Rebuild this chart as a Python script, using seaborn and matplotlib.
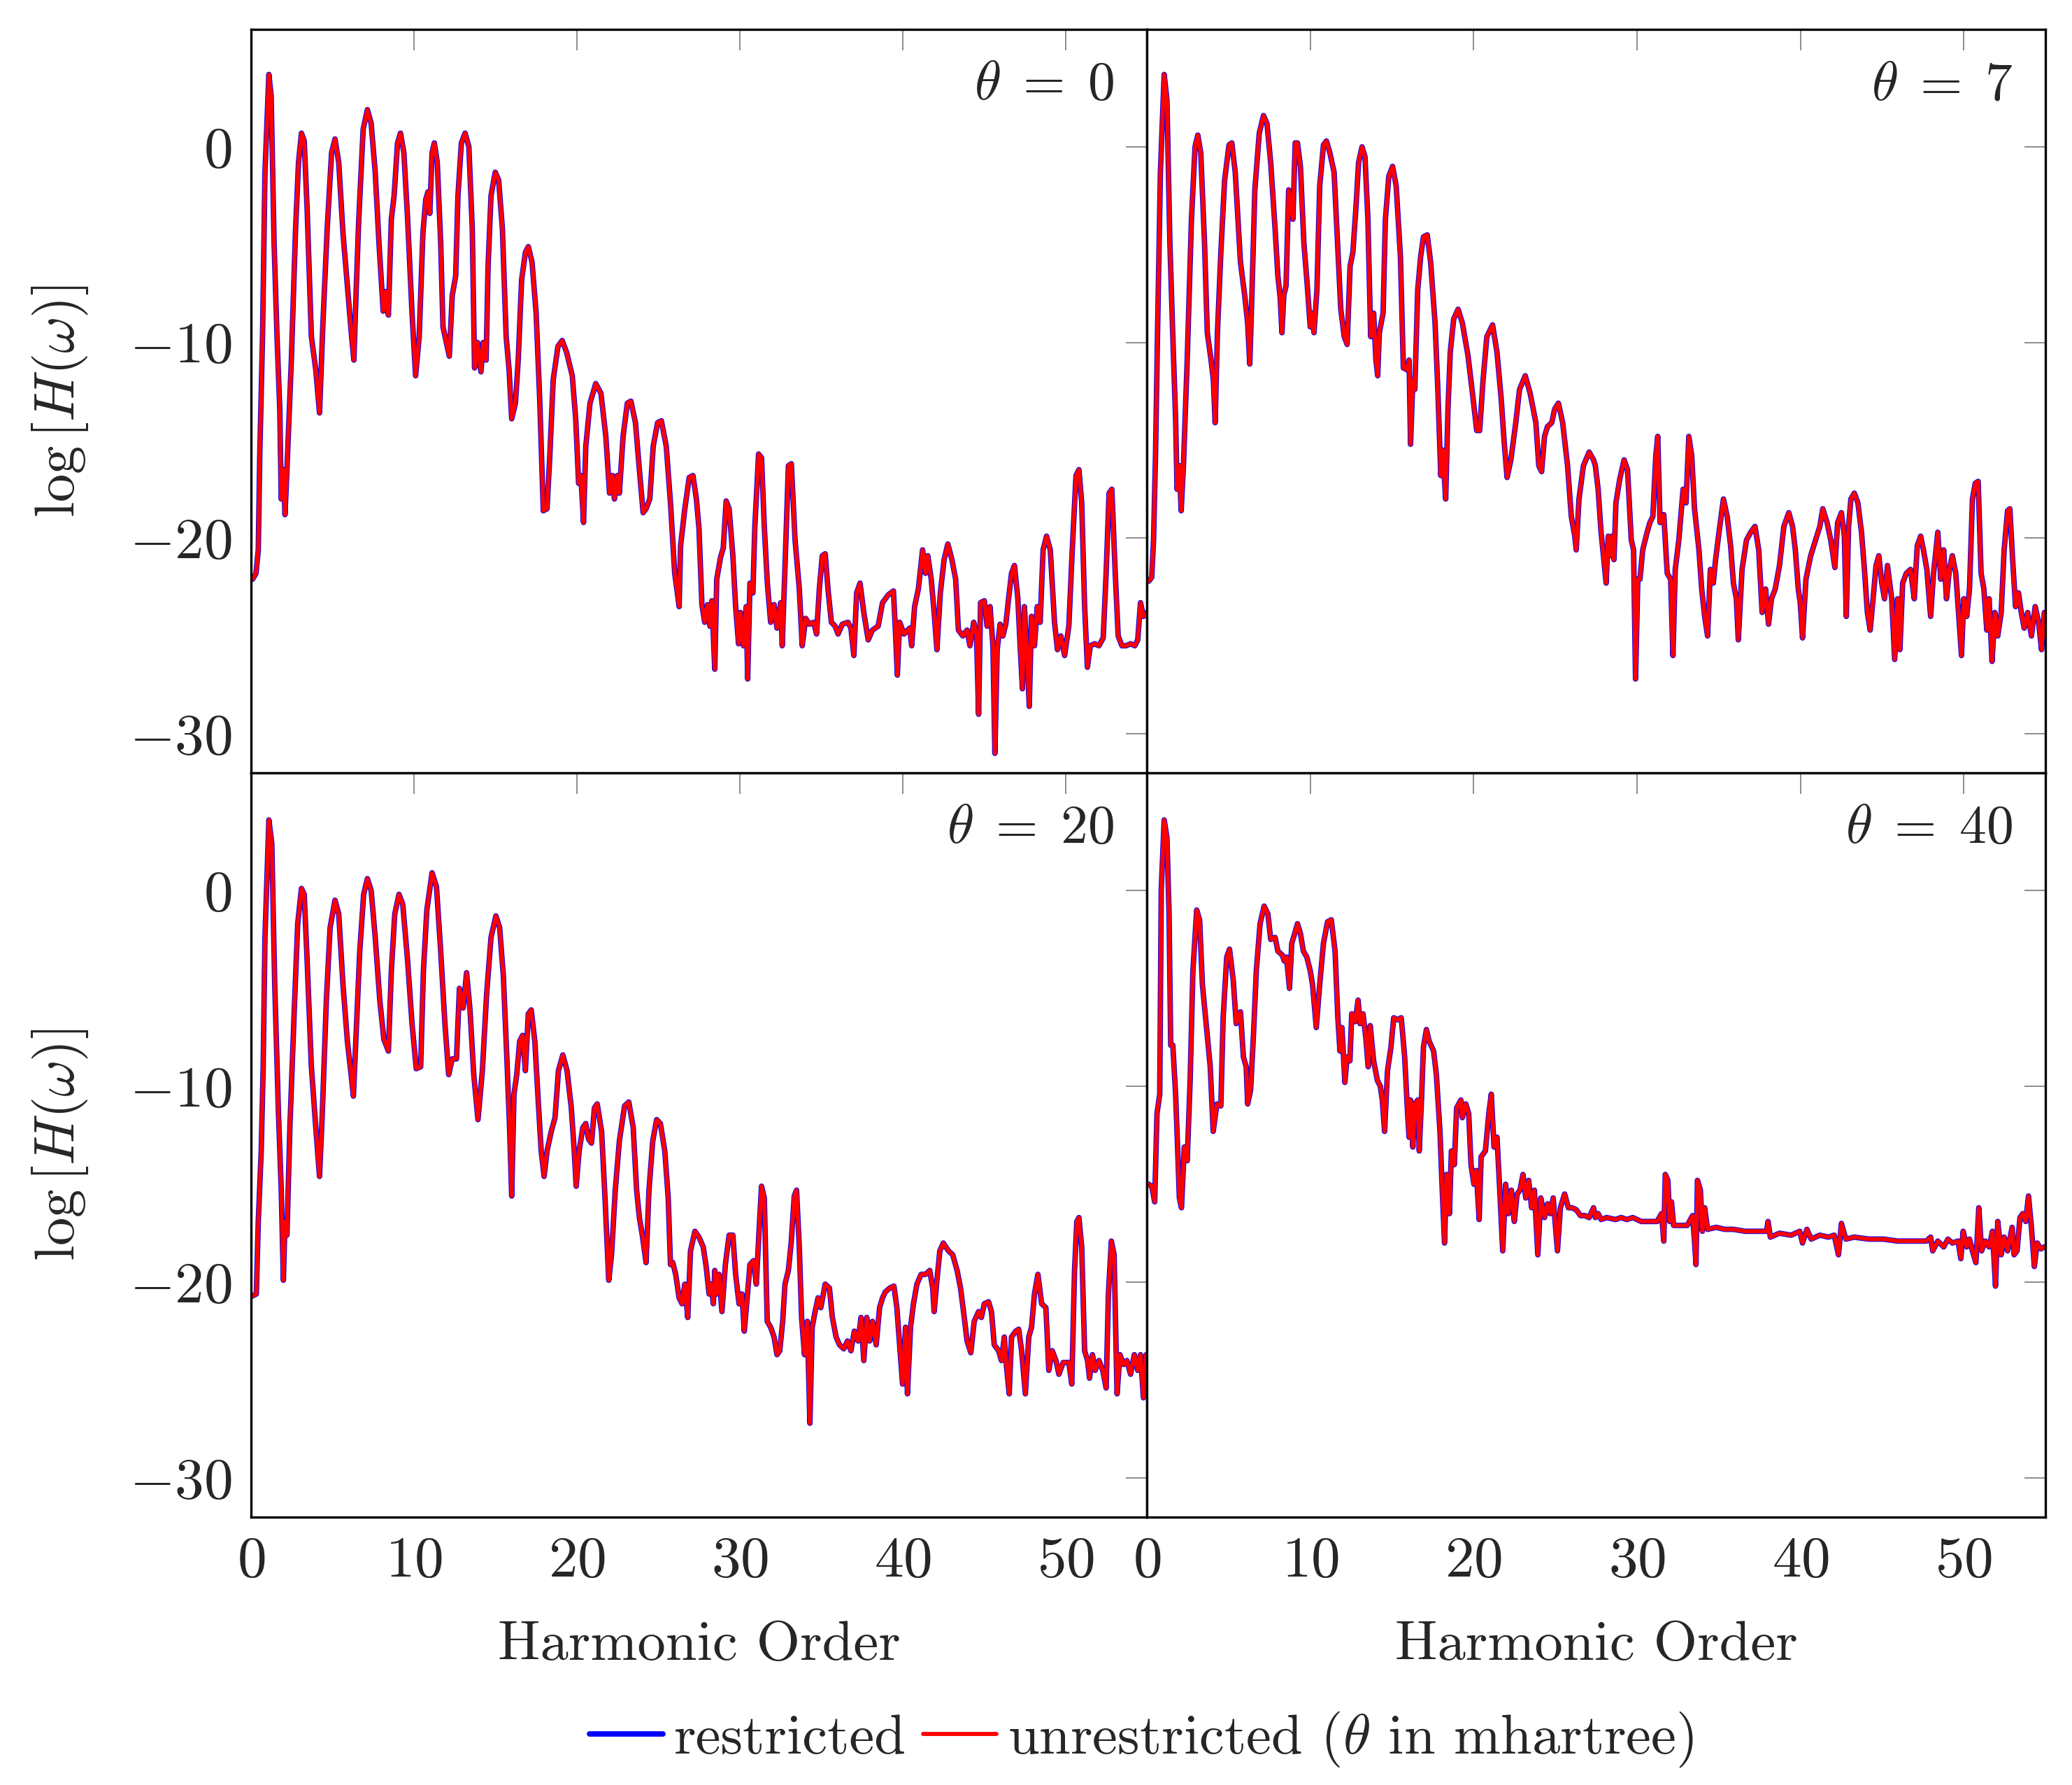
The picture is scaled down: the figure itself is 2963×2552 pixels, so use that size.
import pandas as pd
import seaborn as sns
import matplotlib.pyplot as plt

THETAS = [0, 7, 20, 40]
SERIES = ['restricted', 'unrestricted']
SERIES_COLORS = {'restricted': 'blue', 'unrestricted': 'red'}
XTICKS = [0, 10, 20, 30, 40, 50]
YTICKS = [-30, -20, -10, 0]

# (harmonic order, log H(w)), the two runs overlap to the eye
spec_theta0 = [
    (0.09, -22.1), (0.3, -21.8), (0.44, -20.6), (0.53, -15.8), (0.7, -9.7), (0.85, -1.3), (1.09, 3.7), (1.23, 2.6),
    (1.41, -4.9), (1.59, -9.7), (1.76, -13.4), (1.85, -18.0), (1.98, -16.5), (2.08, -18.8), (2.2, -16.5), (2.47, -10.9),
    (2.73, -4.2), (2.91, -0.8), (3.09, 0.7), (3.26, 0.3), (3.44, -3.2), (3.7, -9.7), (3.97, -11.4), (4.2, -13.6),
    (4.41, -9.0), (4.67, -4.2), (4.94, -0.3), (5.15, 0.4), (5.38, -0.8), (5.64, -4.4), (5.91, -7.1), (6.17, -9.7),
    (6.31, -10.9), (6.44, -7.6), (6.61, -3.7), (6.88, 0.9), (7.14, 1.9), (7.37, 1.2), (7.62, -1.3), (7.85, -4.9),
    (8.11, -8.4), (8.25, -7.4), (8.43, -8.6), (8.61, -3.7), (8.78, -2.5), (8.99, 0.2), (9.17, 0.7), (9.38, -0.3),
    (9.61, -3.7), (9.88, -8.5), (10.1, -11.7), (10.32, -9.7), (10.55, -4.4), (10.72, -2.7), (10.86, -2.3), (10.97, -3.4),
    (11.11, -0.3), (11.25, 0.2), (11.43, -0.8), (11.64, -4.9), (11.78, -9.2), (11.99, -10.0), (12.17, -10.7), (12.35, -7.6),
    (12.56, -6.6), (12.7, -2.5), (12.91, 0.2), (13.14, 0.7), (13.37, 0.0), (13.58, -4.2), (13.72, -11.3), (13.9, -10.0),
    (14.11, -11.5), (14.25, -10.0), (14.43, -10.9), (14.55, -6.1), (14.73, -2.5), (14.99, -1.3), (15.2, -1.7), (15.43, -4.2),
    (15.66, -9.7), (15.84, -11.4), (16.0, -13.9), (16.23, -13.1), (16.4, -10.9), (16.61, -6.8), (16.84, -5.4), (17.02, -5.1),
    (17.25, -5.9), (17.5, -8.5), (17.72, -12.9), (17.94, -18.6), (18.17, -18.5), (18.34, -15.8), (18.55, -11.9), (18.84, -10.2),
    (19.1, -9.9), (19.37, -10.5), (19.72, -11.7), (19.93, -13.9), (20.11, -17.2), (20.25, -16.8), (20.41, -19.2), (20.55, -15.3),
    (20.81, -13.1), (21.16, -12.1), (21.48, -12.6), (21.78, -14.8), (22.01, -17.7), (22.19, -16.8), (22.31, -18.0), (22.49, -16.8),
    (22.61, -17.7), (22.84, -14.8), (23.1, -13.1), (23.32, -13.0), (23.6, -14.1), (23.84, -16.5), (24.07, -18.7), (24.25, -18.5),
    (24.48, -18.0), (24.69, -15.3), (24.96, -14.1), (25.19, -14.0), (25.49, -15.3), (25.75, -18.2), (26.01, -21.8), (26.14, -22.6),
    (26.28, -23.5), (26.37, -20.4), (26.63, -18.5), (26.9, -16.9), (27.13, -16.8), (27.34, -18.0), (27.5, -19.5), (27.68, -23.4),
    (27.85, -24.3), (28.03, -23.4), (28.17, -24.5), (28.29, -23.2), (28.47, -26.7), (28.59, -22.1), (28.82, -21.0), (28.99, -20.5),
    (29.17, -18.1), (29.35, -18.5), (29.58, -20.9), (29.75, -23.5), (29.93, -25.4), (30.05, -23.8), (30.23, -25.5), (30.4, -23.5),
    (30.49, -27.2), (30.63, -22.3), (30.81, -22.8), (30.93, -19.4), (31.16, -15.7), (31.34, -15.9), (31.51, -19.4), (31.69, -22.2),
    (31.9, -24.3), (32.11, -23.4), (32.29, -24.6), (32.52, -23.3), (32.61, -25.5), (32.78, -21.5), (32.99, -16.3), (33.17, -16.2),
    (33.4, -20.1), (33.66, -22.6), (33.84, -25.5), (34.05, -24.1), (34.28, -24.4), (34.54, -24.3), (34.72, -24.9), (34.89, -22.6),
    (35.07, -20.9), (35.25, -20.8), (35.42, -22.6), (35.63, -24.3), (35.86, -24.5), (36.04, -24.9), (36.3, -24.4), (36.65, -24.3),
    (36.83, -24.6), (37.01, -26.0), (37.18, -22.8), (37.39, -22.3), (37.62, -23.8), (37.89, -25.2), (38.15, -24.7), (38.5, -24.5),
    (38.77, -23.3), (39.12, -22.9), (39.44, -22.7), (39.56, -24.7), (39.68, -27.0), (39.82, -24.3), (40.09, -24.9), (40.44, -24.6),
    (40.56, -25.5), (40.74, -23.5), (40.97, -22.6), (41.23, -20.6), (41.41, -21.8), (41.55, -20.9), (41.76, -22.1), (41.94, -23.8),
    (42.11, -25.7), (42.32, -22.8), (42.55, -21.1), (42.78, -20.3), (43.03, -21.1), (43.26, -22.1), (43.43, -24.7), (43.7, -25.0),
    (43.96, -24.7), (44.14, -25.5), (44.37, -24.3), (44.54, -24.9), (44.67, -29.0), (44.79, -23.3), (45.02, -23.2), (45.19, -24.5),
    (45.37, -23.5), (45.55, -25.5), (45.67, -31.0), (45.81, -25.7), (45.99, -24.4), (46.16, -25.0), (46.34, -24.4), (46.51, -23.1),
    (46.69, -21.8), (46.87, -21.4), (47.08, -23.1), (47.22, -25.5), (47.36, -27.7), (47.48, -23.5), (47.66, -26.2), (47.78, -28.6),
    (47.92, -24.0), (48.1, -25.5), (48.27, -23.5), (48.45, -24.3), (48.63, -20.6), (48.84, -19.9), (49.07, -20.6), (49.33, -24.3),
    (49.51, -25.7), (49.72, -25.0), (49.95, -26.0), (50.21, -24.5), (50.42, -20.6), (50.65, -16.8), (50.83, -16.5), (51.0, -18.2),
    (51.18, -23.5), (51.35, -26.6), (51.53, -25.5), (51.79, -25.4), (52.06, -25.5), (52.32, -25.1), (52.5, -21.8), (52.68, -17.7),
    (52.85, -17.5), (53.06, -21.8), (53.24, -25.0), (53.47, -25.5), (53.73, -25.5), (54.0, -25.4), (54.26, -25.5), (54.44, -25.2),
    (54.61, -23.3), (54.79, -24.0), (55.0, -23.8),
]

spec_theta7 = [
    (0.12, -22.2), (0.3, -22.0), (0.41, -20.1), (0.53, -15.8), (0.65, -9.7), (0.83, -1.3), (1.06, 3.7), (1.23, 2.4),
    (1.41, -4.9), (1.59, -9.7), (1.76, -13.9), (1.85, -17.5), (1.99, -16.3), (2.1, -18.6), (2.24, -16.3), (2.47, -10.9),
    (2.73, -3.7), (2.95, 0.0), (3.12, 0.6), (3.3, -0.3), (3.53, -4.9), (3.7, -9.5), (3.93, -10.9), (4.07, -11.9),
    (4.18, -14.1), (4.32, -9.5), (4.53, -5.4), (4.76, -1.7), (5.03, 0.1), (5.2, 0.2), (5.41, -1.3), (5.73, -5.9),
    (5.99, -7.6), (6.17, -9.0), (6.3, -11.1), (6.44, -7.3), (6.61, -2.2), (6.88, 0.7), (7.14, 1.6), (7.35, 1.2),
    (7.58, -0.8), (7.85, -4.2), (8.02, -6.6), (8.16, -7.7), (8.27, -9.5), (8.38, -7.6), (8.52, -7.1), (8.68, -2.2),
    (8.82, -3.0), (8.94, -3.7), (9.08, 0.2), (9.22, 0.2), (9.4, -1.0), (9.61, -4.9), (9.82, -7.1), (10.0, -9.2),
    (10.11, -8.5), (10.23, -9.5), (10.41, -7.3), (10.58, -2.0), (10.81, 0.1), (10.99, 0.3), (11.2, -0.3), (11.46, -1.3),
    (11.64, -4.4), (11.87, -8.3), (12.08, -9.7), (12.26, -10.1), (12.44, -6.1), (12.61, -5.4), (12.79, -3.2), (12.96, -0.8),
    (13.17, 0.0), (13.35, -0.5), (13.53, -3.7), (13.7, -9.7), (13.88, -8.5), (14.02, -10.9), (14.13, -11.7), (14.23, -9.5),
    (14.46, -8.5), (14.6, -3.7), (14.81, -1.5), (15.04, -1.0), (15.26, -2.0), (15.52, -5.6), (15.7, -11.3), (15.93, -11.4),
    (16.05, -10.9), (16.14, -15.2), (16.28, -11.9), (16.4, -12.4), (16.58, -7.3), (16.76, -5.6), (16.93, -4.6), (17.16, -4.5),
    (17.37, -5.9), (17.64, -9.0), (17.81, -12.4), (17.99, -16.8), (18.11, -15.5), (18.29, -18.0), (18.43, -13.4), (18.57, -10.5),
    (18.78, -8.8), (19.05, -8.3), (19.31, -9.0), (19.66, -10.7), (19.93, -12.6), (20.19, -14.5), (20.37, -14.5), (20.58, -11.9),
    (20.81, -9.7), (21.16, -9.1), (21.43, -10.5), (21.69, -12.9), (21.87, -15.1), (22.05, -16.9), (22.28, -16.0), (22.58, -14.1),
    (22.81, -12.4), (23.16, -11.7), (23.46, -12.6), (23.81, -14.1), (23.99, -16.3), (24.16, -16.6), (24.34, -14.8), (24.52, -14.3),
    (24.78, -14.1), (24.96, -13.4), (25.19, -13.1), (25.45, -14.1), (25.75, -16.3), (25.98, -18.9), (26.19, -19.9), (26.28, -20.6),
    (26.45, -18.0), (26.72, -16.3), (27.07, -15.6), (27.34, -16.0), (27.45, -16.3), (27.62, -17.5), (27.8, -19.7), (27.97, -21.1),
    (28.11, -22.3), (28.24, -19.9), (28.36, -20.9), (28.47, -19.9), (28.59, -21.1), (28.71, -18.2), (28.94, -17.0), (29.21, -16.0),
    (29.42, -16.5), (29.65, -20.1), (29.79, -20.6), (29.91, -27.2), (30.05, -22.1), (30.18, -22.1), (30.35, -20.6), (30.62, -19.7),
    (30.79, -19.2), (30.97, -18.9), (31.15, -15.8), (31.27, -14.8), (31.41, -19.2), (31.64, -18.8), (31.85, -21.8), (32.06, -22.1),
    (32.2, -26.0), (32.34, -21.6), (32.56, -20.1), (32.82, -17.5), (33.0, -18.2), (33.17, -14.8), (33.35, -15.8), (33.52, -18.5),
    (33.79, -20.6), (33.96, -22.6), (34.14, -24.0), (34.32, -25.0), (34.49, -21.6), (34.67, -22.3), (34.81, -21.1), (35.02, -19.7),
    (35.29, -18.0), (35.52, -18.9), (35.73, -20.4), (35.9, -22.3), (36.08, -23.1), (36.2, -25.2), (36.43, -21.6), (36.7, -20.1),
    (36.96, -19.7), (37.22, -19.4), (37.45, -20.6), (37.66, -23.8), (37.87, -22.6), (38.05, -24.4), (38.23, -23.1), (38.46, -22.6),
    (38.72, -21.4), (38.99, -19.4), (39.29, -18.7), (39.52, -19.4), (39.69, -20.6), (39.87, -22.6), (39.99, -23.3), (40.13, -25.1),
    (40.34, -22.1), (40.63, -20.9), (40.93, -20.1), (41.19, -19.4), (41.37, -18.5), (41.63, -19.2), (41.86, -20.1), (42.11, -21.5),
    (42.28, -19.2), (42.51, -18.7), (42.69, -19.9), (42.81, -24.0), (42.95, -19.4), (43.09, -18.0), (43.3, -17.7), (43.52, -18.2),
    (43.74, -19.7), (43.92, -21.6), (44.1, -23.8), (44.27, -24.7), (44.45, -23.1), (44.63, -21.4), (44.8, -20.9), (44.98, -22.3),
    (45.15, -23.1), (45.33, -21.4), (45.59, -23.1), (45.77, -26.2), (45.95, -23.1), (46.09, -25.7), (46.26, -22.3), (46.48, -21.8),
    (46.74, -21.6), (46.97, -23.1), (47.15, -20.4), (47.36, -19.9), (47.53, -20.6), (47.74, -21.6), (47.97, -24.0), (48.15, -21.8),
    (48.41, -19.7), (48.59, -22.1), (48.77, -20.6), (48.94, -23.1), (49.12, -21.6), (49.3, -20.9), (49.51, -21.8), (49.68, -23.8),
    (49.86, -26.0), (50.0, -23.1), (50.18, -24.0), (50.35, -22.6), (50.53, -18.0), (50.7, -17.2), (50.88, -17.1), (51.06, -21.8),
    (51.23, -22.6), (51.41, -24.7), (51.55, -23.1), (51.73, -26.3), (51.9, -23.8), (52.08, -25.0), (52.29, -23.8), (52.47, -20.6),
    (52.68, -18.6), (52.82, -18.5), (52.99, -21.1), (53.17, -23.5), (53.35, -22.8), (53.52, -23.8), (53.7, -24.6), (53.91, -23.8),
    (54.14, -25.0), (54.37, -23.5), (54.58, -24.3), (54.76, -25.7), (54.93, -23.8),
]

spec_theta20 = [
    (0.09, -20.7), (0.32, -20.6), (0.44, -16.9), (0.62, -13.3), (0.74, -9.0), (0.85, -2.4), (1.09, 3.6), (1.27, 2.4),
    (1.45, -4.8), (1.68, -11.4), (1.85, -15.3), (1.98, -19.9), (2.08, -16.9), (2.2, -17.6), (2.38, -12.1), (2.65, -6.1),
    (2.86, -1.7), (3.09, 0.1), (3.26, -0.2), (3.44, -3.6), (3.7, -9.0), (3.97, -12.1), (4.2, -14.6), (4.37, -11.4),
    (4.62, -5.6), (4.85, -1.9), (5.15, -0.5), (5.38, -1.2), (5.64, -4.8), (5.91, -7.7), (6.14, -9.4), (6.28, -10.5),
    (6.44, -7.5), (6.67, -3.1), (6.91, -0.2), (7.14, 0.6), (7.37, 0.0), (7.62, -2.4), (7.9, -5.6), (8.15, -7.6),
    (8.43, -8.2), (8.61, -4.1), (8.82, -1.2), (9.08, -0.2), (9.31, -0.7), (9.61, -3.6), (9.88, -6.8), (10.14, -9.1),
    (10.41, -9.0), (10.58, -4.1), (10.79, -1.0), (11.11, 0.9), (11.38, 0.2), (11.64, -3.1), (11.9, -6.8), (12.13, -9.4),
    (12.35, -8.6), (12.61, -8.6), (12.79, -5.0), (13.02, -6.0), (13.23, -4.2), (13.44, -6.1), (13.67, -9.4), (13.93, -11.7),
    (14.2, -9.2), (14.46, -5.3), (14.73, -2.4), (15.03, -1.3), (15.26, -1.9), (15.49, -4.4), (15.7, -8.5), (15.87, -12.1),
    (16.0, -15.6), (16.14, -10.4), (16.31, -9.4), (16.49, -7.7), (16.67, -7.4), (16.84, -9.2), (17.02, -6.3), (17.2, -6.1),
    (17.42, -7.7), (17.64, -10.9), (17.81, -13.3), (17.99, -14.6), (18.17, -13.3), (18.43, -12.3), (18.66, -11.6), (18.87, -9.2),
    (19.14, -8.4), (19.4, -9.2), (19.66, -11.1), (19.84, -13.3), (19.96, -15.1), (20.14, -13.3), (20.37, -12.1), (20.55, -11.9),
    (20.72, -12.7), (20.9, -12.9), (21.08, -11.1), (21.25, -10.9), (21.52, -12.3), (21.73, -15.7), (21.96, -19.9), (22.13, -18.6),
    (22.36, -15.3), (22.61, -12.8), (22.93, -11.0), (23.19, -10.8), (23.46, -12.1), (23.67, -15.3), (23.84, -16.7), (24.02, -17.6),
    (24.25, -19.0), (24.43, -15.3), (24.66, -12.8), (24.9, -11.7), (25.13, -11.9), (25.4, -13.3), (25.61, -15.7), (25.75, -19.1),
    (25.89, -19.0), (26.07, -19.6), (26.28, -20.8), (26.46, -21.1), (26.63, -20.1), (26.81, -21.8), (26.98, -18.4), (27.25, -17.4),
    (27.5, -17.7), (27.76, -18.2), (27.94, -19.2), (28.12, -20.6), (28.24, -20.1), (28.38, -21.1), (28.47, -19.4), (28.59, -20.6),
    (28.73, -19.6), (28.91, -21.5), (29.12, -19.1), (29.35, -17.6), (29.58, -17.6), (29.75, -19.6), (29.96, -21.1), (30.14, -20.6),
    (30.28, -22.5), (30.46, -20.8), (30.63, -19.1), (30.85, -18.9), (31.02, -20.1), (31.2, -17.2), (31.34, -15.1), (31.51, -15.7),
    (31.69, -22.0), (31.9, -22.3), (32.11, -22.8), (32.29, -23.7), (32.46, -23.5), (32.64, -22.0), (32.78, -20.1), (32.99, -19.4),
    (33.17, -17.9), (33.35, -15.6), (33.49, -15.3), (33.66, -18.2), (33.8, -21.8), (33.98, -23.7), (34.15, -22.0), (34.31, -27.2),
    (34.45, -22.3), (34.63, -21.5), (34.81, -20.8), (34.98, -21.3), (35.25, -20.1), (35.51, -20.3), (35.69, -21.8), (35.92, -22.8),
    (36.13, -23.2), (36.39, -23.4), (36.62, -23.0), (36.83, -23.5), (37.04, -22.5), (37.27, -23.0), (37.45, -21.8), (37.62, -24.0),
    (37.8, -21.8), (37.98, -23.0), (38.15, -22.0), (38.38, -23.2), (38.59, -21.3), (38.77, -20.8), (38.94, -20.5), (39.21, -20.3),
    (39.47, -20.2), (39.65, -21.3), (39.82, -23.2), (40.0, -25.2), (40.18, -22.3), (40.3, -25.7), (40.49, -22.3), (40.67, -21.1),
    (40.88, -20.1), (41.14, -19.6), (41.41, -19.6), (41.67, -19.4), (41.85, -20.3), (41.94, -21.5), (42.11, -19.9), (42.29, -18.4),
    (42.5, -18.0), (42.82, -18.4), (43.08, -18.6), (43.35, -19.4), (43.56, -20.3), (43.79, -21.8), (43.96, -23.0), (44.19, -23.6),
    (44.4, -22.0), (44.67, -21.5), (44.84, -21.8), (45.02, -21.1), (45.28, -21.0), (45.46, -21.5), (45.63, -23.2), (45.9, -23.5),
    (46.07, -24.0), (46.25, -22.8), (46.37, -24.2), (46.55, -25.7), (46.69, -22.8), (46.95, -22.5), (47.13, -22.4), (47.31, -23.5),
    (47.54, -25.7), (47.75, -22.8), (47.92, -22.3), (48.1, -20.6), (48.31, -19.6), (48.54, -21.1), (48.8, -21.3), (48.98, -24.5),
    (49.19, -23.5), (49.42, -24.0), (49.6, -24.7), (49.86, -24.1), (50.21, -24.1), (50.39, -25.2), (50.56, -19.4), (50.7, -16.9),
    (50.83, -16.7), (51.0, -18.2), (51.18, -23.5), (51.36, -24.0), (51.48, -24.9), (51.66, -23.7), (51.83, -24.5), (52.06, -24.0),
    (52.29, -24.5), (52.5, -25.4), (52.64, -20.6), (52.82, -17.9), (52.99, -18.6), (53.17, -25.7), (53.35, -23.7), (53.56, -24.2),
    (53.77, -24.0), (54.0, -24.7), (54.23, -23.7), (54.44, -24.5), (54.61, -23.7), (54.79, -25.9), (54.96, -23.7),
]

spec_theta40 = [
    (0.12, -15.0), (0.3, -15.1), (0.48, -15.9), (0.62, -11.4), (0.79, -10.4), (0.88, 0.0), (1.06, 3.6), (1.23, 2.7),
    (1.36, -1.2), (1.46, -7.9), (1.59, -7.9), (1.76, -10.4), (1.89, -13.3), (1.99, -15.7), (2.12, -16.2), (2.29, -13.1),
    (2.47, -13.8), (2.65, -9.7), (2.82, -4.1), (3.05, -1.0), (3.23, -1.5), (3.4, -4.8), (3.65, -7.0), (3.88, -9.0),
    (4.06, -12.3), (4.29, -10.9), (4.53, -11.0), (4.67, -6.5), (4.89, -3.4), (5.06, -3.0), (5.29, -4.6), (5.47, -6.8),
    (5.73, -6.2), (5.91, -8.5), (6.08, -9.0), (6.17, -10.9), (6.35, -10.2), (6.53, -7.3), (6.7, -4.1), (6.93, -1.7),
    (7.18, -0.8), (7.41, -1.2), (7.58, -2.5), (7.85, -2.4), (8.02, -3.1), (8.29, -3.3), (8.41, -3.6), (8.55, -3.4),
    (8.73, -5.0), (8.87, -2.7), (9.05, -2.2), (9.22, -1.7), (9.4, -2.2), (9.58, -3.1), (9.79, -3.4), (10.0, -4.1),
    (10.14, -4.8), (10.37, -7.0), (10.58, -4.8), (10.81, -2.7), (11.06, -1.6), (11.29, -1.5), (11.52, -3.1), (11.69, -6.5),
    (11.82, -8.2), (11.94, -7.0), (12.12, -9.8), (12.26, -8.5), (12.43, -8.7), (12.54, -6.3), (12.75, -6.7), (12.93, -5.6),
    (13.05, -6.8), (13.23, -6.3), (13.4, -7.5), (13.55, -9.0), (13.67, -6.9), (13.88, -8.7), (14.11, -9.7), (14.29, -10.0),
    (14.41, -10.7), (14.55, -12.3), (14.73, -9.2), (14.94, -8.0), (15.11, -6.5), (15.34, -6.6), (15.57, -6.5), (15.78, -8.5),
    (15.96, -11.4), (16.05, -12.6), (16.14, -10.7), (16.28, -13.1), (16.4, -10.9), (16.58, -10.7), (16.67, -13.3), (16.81, -10.7),
    (16.93, -8.0), (17.11, -7.1), (17.28, -7.7), (17.55, -8.2), (17.72, -9.4), (17.94, -12.3), (18.08, -15.3), (18.22, -18.0),
    (18.34, -14.5), (18.52, -16.5), (18.64, -13.3), (18.82, -14.0), (18.96, -11.1), (19.22, -10.7), (19.31, -11.6), (19.52, -10.9),
    (19.7, -11.4), (19.84, -14.0), (20.02, -15.0), (20.16, -14.3), (20.34, -16.8), (20.46, -13.6), (20.72, -13.3), (20.93, -11.4),
    (21.08, -10.4), (21.25, -13.1), (21.43, -12.6), (21.6, -15.3), (21.78, -18.4), (21.96, -15.0), (22.13, -16.5), (22.31, -15.3),
    (22.49, -16.9), (22.66, -15.5), (22.84, -15.3), (23.02, -14.5), (23.19, -15.7), (23.37, -14.8), (23.55, -16.2), (23.72, -15.3),
    (23.93, -18.6), (24.11, -15.7), (24.34, -16.7), (24.52, -16.0), (24.69, -16.5), (24.87, -15.7), (25.13, -18.4), (25.31, -16.2),
    (25.57, -15.5), (25.8, -16.2), (26.01, -16.2), (26.28, -16.3), (26.54, -16.6), (26.81, -16.6), (27.07, -16.7), (27.34, -16.2),
    (27.45, -16.7), (27.62, -16.5), (27.8, -16.8), (28.15, -16.7), (28.68, -16.8), (29.03, -16.7), (29.38, -16.8), (29.74, -16.7),
    (30.26, -16.9), (30.79, -16.9), (31.23, -16.9), (31.5, -16.5), (31.64, -17.9), (31.73, -14.5), (31.89, -14.8), (32.0, -16.9),
    (32.11, -15.9), (32.24, -17.1), (32.56, -17.1), (33.08, -17.1), (33.4, -16.6), (33.52, -17.9), (33.61, -19.1), (33.7, -14.8),
    (33.88, -15.3), (34.0, -17.4), (34.14, -16.2), (34.32, -17.3), (34.85, -17.2), (35.37, -17.3), (35.9, -17.3), (36.61, -17.4),
    (37.31, -17.4), (37.93, -17.4), (38.02, -16.9), (38.16, -17.7), (38.72, -17.5), (39.43, -17.6), (39.96, -17.4), (40.13, -18.0),
    (40.4, -17.3), (40.66, -17.8), (41.19, -17.6), (41.72, -17.7), (42.07, -17.6), (42.33, -18.6), (42.51, -17.0), (42.78, -17.8),
    (43.3, -17.7), (44.19, -17.8), (45.07, -17.8), (45.95, -17.9), (46.83, -17.9), (47.71, -17.9), (47.97, -17.7), (48.1, -18.4),
    (48.41, -17.9), (48.77, -18.2), (49.03, -17.8), (49.3, -18.0), (49.65, -17.9), (49.82, -18.8), (49.96, -17.4), (50.18, -18.2),
    (50.35, -17.8), (50.53, -18.4), (50.74, -19.0), (50.92, -16.2), (51.09, -18.4), (51.32, -17.9), (51.55, -18.2), (51.76, -17.4),
    (51.94, -20.2), (52.08, -16.9), (52.29, -18.6), (52.47, -17.7), (52.68, -18.4), (52.96, -17.2), (53.08, -18.6), (53.26, -18.4),
    (53.44, -16.7), (53.61, -16.5), (53.79, -16.9), (53.96, -15.6), (54.14, -17.2), (54.32, -19.2), (54.49, -18.0), (54.72, -18.3),
    (54.93, -18.2),
]

spectra = [spec_theta0, spec_theta7, spec_theta20, spec_theta40]

rows = []
for theta, pts in zip(THETAS, spectra):
    for s in SERIES:
        for x, y in pts:
            rows.append((theta, s, x, y))
df = pd.DataFrame(rows, columns=['theta', 'series', 'order', 'logH'])

sns.set_theme(style='white')
plt.rcParams['font.family'] = 'serif'
plt.rcParams['font.serif'] = ['cmr10']
plt.rcParams['mathtext.fontset'] = 'cm'
plt.rcParams['axes.formatter.use_mathtext'] = True

FS = 29
fig = plt.figure(figsize=(14.815, 12.76), dpi=200)
boxes = [
    [0.1212, 0.567, 0.4323, 0.4165],
    [0.5535, 0.567, 0.4337, 0.4165],
    [0.1212, 0.150, 0.4323, 0.417],
    [0.5535, 0.150, 0.4337, 0.417],
]

for i, (theta, box) in enumerate(zip(THETAS, boxes)):
    ax = fig.add_axes(box)
    sub = df[df['theta'] == theta]
    sns.lineplot(data=sub, x='order', y='logH', hue='series', palette=SERIES_COLORS,
                 size='series', sizes={'restricted': 2.8, 'unrestricted': 2.1},
                 estimator=None, sort=False, legend=False, ax=ax)
    ax.set_xlim(0, 55)
    ax.set_ylim(-32, 6)
    ax.set_xticks(XTICKS)
    ax.set_yticks(YTICKS)
    ax.set_xticklabels([f'${t}$' for t in XTICKS])
    ax.set_yticklabels([f'${t}$' for t in YTICKS])
    ax.tick_params(direction='in', top=True, right=True, length=10.8, width=0.7,
                   color='0.55', labelsize=30, pad=10)
    for sp in ax.spines.values():
        sp.set_color('black')
        sp.set_linewidth(1.2)
    left = i % 2 == 0
    bottom = i >= 2
    ax.tick_params(labelleft=left, labelbottom=bottom)
    ax.set_xlabel('Harmonic Order' if bottom else '', fontsize=FS, labelpad=17)
    ax.set_ylabel(r'$\log\left[H(\omega)\right]$' if left else '', fontsize=FS, labelpad=20)
    ax.text(0.963, 0.924, rf'$\theta\;=\;{theta}$', transform=ax.transAxes,
            ha='right', va='center', fontsize=28)
    if i == 0:
        handles = ax.get_lines()[:2]

fig.legend(handles, ['restricted', r'unrestricted ($\theta$ in mhartree)'],
           loc='center', bbox_to_anchor=(0.551, 0.0255), ncol=2, frameon=False,
           fontsize=FS, handlelength=1.3, handletextpad=0.2, columnspacing=0.3)

fig.savefig('out.png', dpi=200)
